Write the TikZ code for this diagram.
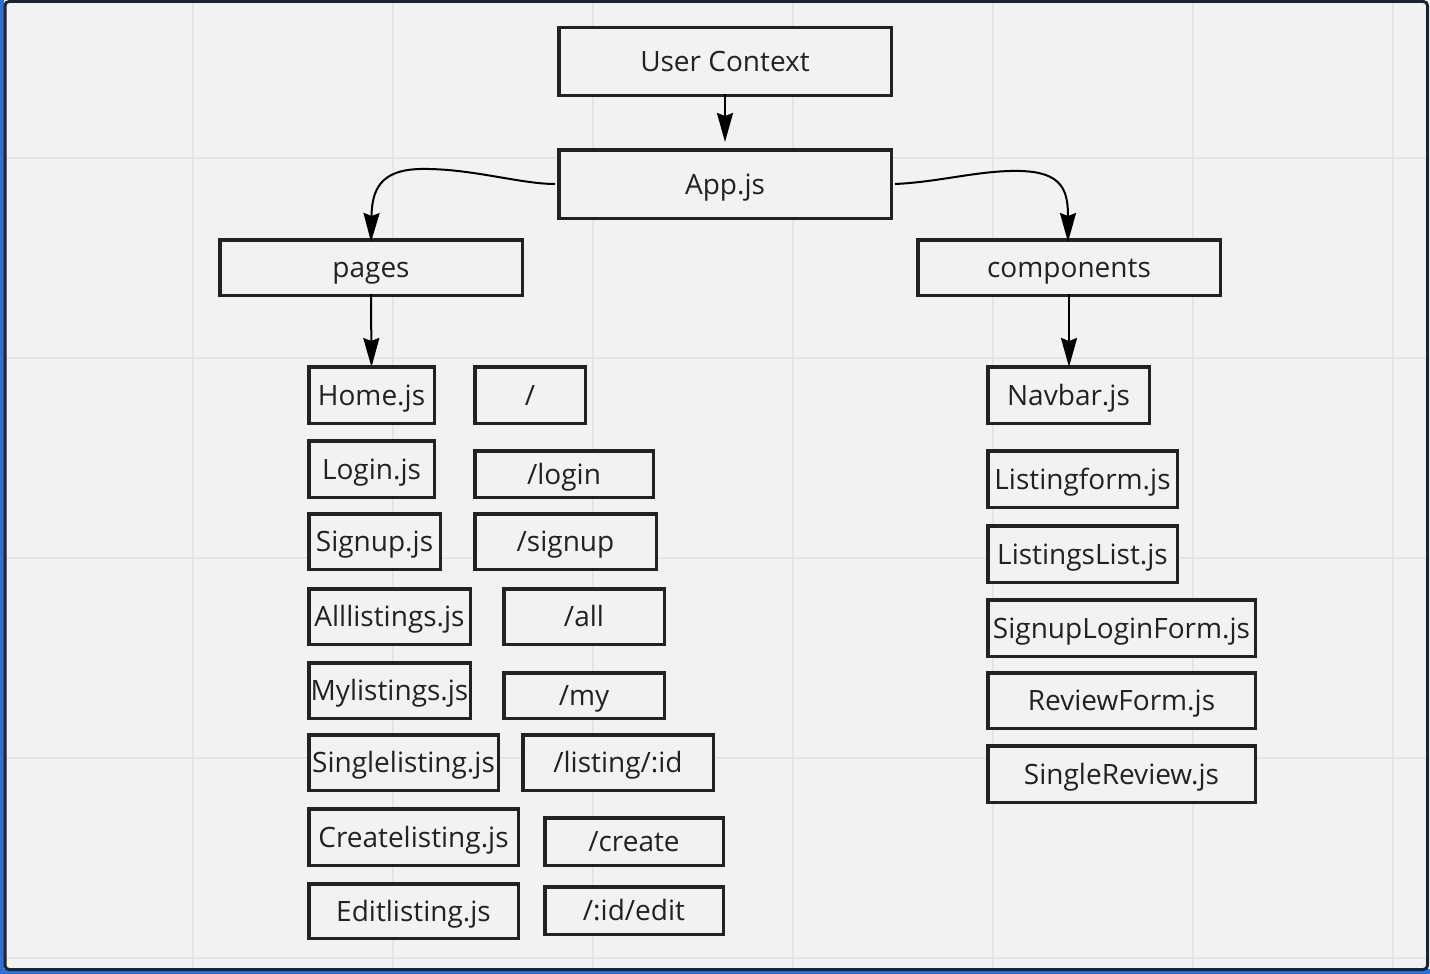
\documentclass[tikz,border=0pt]{standalone}
\usepackage{fontspec}
\setmainfont{Open Sans}
\usetikzlibrary{arrows.meta}
\definecolor{bgc}{HTML}{F2F2F2}
\definecolor{gridc}{HTML}{E4E4E4}
\definecolor{boxc}{HTML}{222222}
\definecolor{txtc}{HTML}{222222}
\definecolor{framec}{HTML}{1B2433}
\definecolor{bluec}{HTML}{2F6FD8}
\tikzset{
  box/.style={draw=boxc, line width=3.5pt, fill=bgc, inner sep=0pt, text=txtc,
    font=\fontsize{28}{28}\selectfont, text height=20pt, text depth=0pt},
  arr/.style={draw=black, line width=2pt, -{Stealth[length=29pt,width=16pt,inset=3pt]}},
}
\begin{document}
\begin{tikzpicture}[x=1pt,y=-1pt]
\useasboundingbox (0,0) rectangle (1430,974);
\fill[white] (0,0) rectangle (1430,974);
\fill[bluec] (0,0) rectangle (4,974);
\fill[bluec] (0,969) rectangle (1430,974);
\fill[bgc] (4,2) rectangle (1427,969);
\foreach \gx in {193,393,593,793,993,1193,1393}
  \draw[gridc, line width=1.5pt] (\gx,3) -- (\gx,968);
\foreach \gy in {158,358,558,758,958}
  \draw[gridc, line width=1.5pt] (5,\gy) -- (1426,\gy);
\draw[framec, line width=3pt, rounded corners=4pt] (5,1.5) rectangle (1427.5,969.5);

% top
\node[box, minimum width=332.5pt, minimum height=67.5pt] (uc) at (725,61.5) {User Context};
\node[box, minimum width=332.5pt, minimum height=68.5pt] (app) at (725,184) {App.js};
\node[box, minimum width=302.5pt, minimum height=55.5pt] (pages) at (371,267.5) {pages};
\node[box, minimum width=302.5pt, minimum height=55.5pt] (comp) at (1069,267.5) {components};

% pages
\node[box, minimum width=125.5pt, minimum height=56.5pt] (home) at (371.5,395) {Home.js};
\node[box, minimum width=110.5pt, minimum height=56.5pt] (rroot) at (530,395) {/};
\node[box, minimum width=125.5pt, minimum height=56.5pt] (login) at (371.5,469) {Login.js};
\node[box, minimum width=178.5pt, minimum height=46.5pt] (rlogin) at (564,474) {/login};
\node[box, minimum width=131.5pt, minimum height=55.5pt] (signup) at (374.5,541.5) {Signup.js};
\node[box, minimum width=181.5pt, minimum height=55.5pt] (rsignup) at (565.5,541.5) {/signup};
\node[box, minimum width=161.5pt, minimum height=55.5pt] (all) at (389.5,616.5) {Alllistings.js};
\node[box, minimum width=160.5pt, minimum height=55.5pt] (rall) at (584,616.5) {/all};
\node[box, minimum width=161.5pt, minimum height=55.5pt] (my) at (389.5,690.5) {Mylistings.js};
\node[box, minimum width=160.5pt, minimum height=45.5pt] (rmy) at (584,695.5) {/my};
\node[box, minimum width=189.5pt, minimum height=55.5pt] (single) at (403.5,762.5) {Singlelisting.js};
\node[box, minimum width=190.5pt, minimum height=55.5pt] (rsingle) at (618,762.5) {/listing/:id};
\node[box, minimum width=209.5pt, minimum height=56.5pt] (create) at (413.5,837) {Createlisting.js};
\node[box, minimum width=178.5pt, minimum height=47.5pt] (rcreate) at (634,841.5) {/create};
\node[box, minimum width=209.5pt, minimum height=54.5pt] (edit) at (413.5,911) {Editlisting.js};
\node[box, minimum width=178.5pt, minimum height=47.5pt] (redit) at (634,910.5) {/:id/edit};

% components
\node[box, minimum width=161.5pt, minimum height=56.5pt] (navbar) at (1068.5,395) {Navbar.js};
\node[box, minimum width=189.5pt, minimum height=56.5pt] (lform) at (1082.5,479) {Listingform.js};
\node[box, minimum width=189.5pt, minimum height=56.5pt] (llist) at (1082.5,554) {ListingsList.js};
\node[box, minimum width=267.5pt, minimum height=56.5pt] (slf) at (1121.5,628) {SignupLoginForm.js};
\node[box, minimum width=267.5pt, minimum height=55.5pt] (rf) at (1121.5,700.5) {ReviewForm.js};
\node[box, minimum width=267.5pt, minimum height=56.5pt] (sr) at (1121.5,774) {SingleReview.js};

% connectors
\draw[arr] ([yshift=3pt]uc.south) -- ([yshift=6pt]app.north);
\draw[arr] ([xshift=-2pt]app.west) .. controls (520,184) and (470,168) .. (420,169)
  .. controls (380,170) and (372,190) .. ([yshift=-4pt]pages.north);
\draw[arr] ([xshift=2pt]app.east) .. controls (940,182) and (980,170) .. (1020,171)
  .. controls (1062,172) and (1068,190) .. ([xshift=-1pt,yshift=-4pt]comp.north);
\draw[arr] ([yshift=3pt]pages.south) -- ([yshift=-2pt]home.north);
\draw[arr] ([yshift=3pt]comp.south) -- ([xshift=0.5pt,yshift=-2pt]navbar.north);
\end{tikzpicture}
\end{document}
